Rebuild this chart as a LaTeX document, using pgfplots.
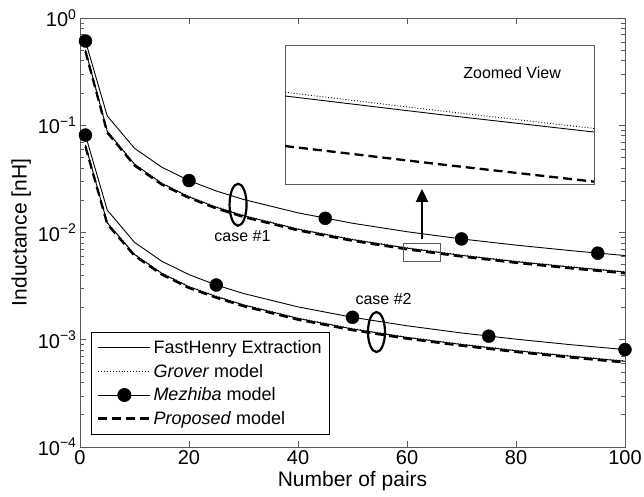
\documentclass[border=0pt]{standalone}
\usepackage{fontspec}
\setmainfont{Liberation Sans}
\usepackage{pgfplots}
\pgfplotsset{compat=1.18}
\usetikzlibrary{arrows.meta,calc}

\definecolor{axgray}{gray}{0.35}

\begin{document}
\begin{tikzpicture}
\begin{semilogyaxis}[
  name=main,
  scale only axis,
  width=545pt, height=429pt,
  xmin=0, xmax=100, ymin=1e-4, ymax=1,
  xtick={0,20,40,60,80,100},
  xticklabels={0,20,40,60,80,100},
  ytick={1e-4,1e-3,1e-2,1e-1,1},
  yticklabels={10\textsuperscript{−4},10\textsuperscript{−3},10\textsuperscript{−2},10\textsuperscript{−1},10\textsuperscript{0}},
  axis line style={axgray, line width=0.8pt},
  every tick/.style={axgray, line width=0.6pt},
  major tick length=6pt, minor tick length=4pt,
  tick label style={font=\fontsize{20}{24}\selectfont},
  label style={font=\fontsize{21}{25}\selectfont},
  xlabel={Number of pairs},
  ylabel={Inductance [nH]},
  legend cell align=left,
  legend image code/.code={\draw[mark repeat=2,mark phase=2,#1] plot coordinates {(0pt,0pt) (26pt,0pt) (52pt,0pt)};},
  legend style={at={(0.02,0.03)}, anchor=south west, draw=black, line width=0.6pt,
    font=\fontsize{18}{21}\selectfont, row sep=5pt, inner xsep=6pt, inner ysep=6pt},
]
\addlegendimage{black, line width=0.9pt}
\addlegendentry{FastHenry Extraction}
\addlegendimage{black, dotted, line width=0.9pt}
\addlegendentry{\textit{Grover} model}
\addlegendimage{black, line width=0.9pt, mark=*, mark size=6.5pt}
\addlegendentry{\textit{Mezhiba} model}
\addlegendimage{black, line width=2.3pt, dash pattern=on 9pt off 5pt}
\addlegendentry{\textit{Proposed} model}

% case 1
\addplot[black, line width=0.9pt, forget plot] coordinates {
  (1,0.500) (5,0.0878) (10,0.0433) (15,0.0287) (20,0.0215) (25,0.0172) (30,0.01433)
  (40,0.01073) (50,0.00858) (60,0.00715) (70,0.00612) (80,0.00535) (90,0.00476) (100,0.00428)};
\addplot[black, dotted, line width=0.9pt, forget plot] coordinates {
  (1,0.505) (5,0.0887) (10,0.0437) (15,0.0290) (20,0.0217) (25,0.01737) (30,0.01447)
  (40,0.01084) (50,0.00867) (60,0.00722) (70,0.00618) (80,0.00540) (90,0.00481) (100,0.00432)};
\addplot[black, line width=0.9pt, forget plot] coordinates {
  (1,0.61) (5,0.122) (10,0.061) (15,0.04067) (20,0.0305) (25,0.0244) (30,0.02033)
  (40,0.01525) (50,0.0122) (60,0.01017) (70,0.00871) (80,0.00763) (90,0.00678) (100,0.0061)};
\addplot[black, only marks, mark=*, mark size=6.5pt, forget plot] coordinates {
  (1,0.61) (20,0.0305) (45,0.01356) (70,0.00871) (95,0.00642)};
\addplot[black, line width=2.3pt, dash pattern=on 9pt off 5pt, forget plot] coordinates {
  (1,0.488) (5,0.0856) (10,0.0422) (15,0.0280) (20,0.0210) (25,0.01677) (30,0.01397)
  (40,0.01046) (50,0.00837) (60,0.00697) (70,0.00597) (80,0.00522) (90,0.00464) (100,0.00417)};

% case 2
\addplot[black, line width=0.9pt, forget plot] coordinates {
  (1,0.065) (5,0.0123) (10,0.00624) (15,0.00416) (20,0.00312) (25,0.00253) (30,0.00211)
  (40,0.00158) (50,0.00126) (60,0.00105) (70,0.000903) (80,0.00079) (90,0.000702) (100,0.00063)};
\addplot[black, dotted, line width=0.9pt, forget plot] coordinates {
  (1,0.0657) (5,0.01242) (10,0.0063) (15,0.0042) (20,0.00315) (25,0.002555) (30,0.00213)
  (40,0.001596) (50,0.001273) (60,0.00106) (70,0.000912) (80,0.000798) (90,0.000709) (100,0.000636)};
\addplot[black, line width=0.9pt, forget plot] coordinates {
  (1,0.081) (5,0.0162) (10,0.0081) (15,0.0054) (20,0.00405) (25,0.00324) (30,0.0027)
  (40,0.002025) (50,0.00162) (60,0.00135) (70,0.001157) (80,0.001013) (90,0.0009) (100,0.00081)};
\addplot[black, only marks, mark=*, mark size=6.5pt, forget plot] coordinates {
  (1,0.081) (25,0.00324) (50,0.00162) (75,0.00108) (100,0.00081)};
\addplot[black, line width=2.3pt, dash pattern=on 9pt off 5pt, forget plot] coordinates {
  (1,0.0634) (5,0.0120) (10,0.00608) (15,0.00406) (20,0.00304) (25,0.002467) (30,0.002057)
  (40,0.00154) (50,0.001229) (60,0.001024) (70,0.00088) (80,0.00077) (90,0.000684) (100,0.000614)};

% annotations
\draw[black, line width=2.2pt] (axis cs:29.0,0.01816) ellipse [x radius=8.5pt, y radius=21pt];
\node[font=\fontsize{16}{19}\selectfont] at (axis cs:29.8,0.00927) {case \#1};
\draw[black, line width=2.2pt] (axis cs:54.4,0.00118) ellipse [x radius=8.5pt, y radius=20pt];
\node[font=\fontsize{16}{19}\selectfont] at (axis cs:55.7,0.0024) {case \#2};
\draw[axgray, line width=0.6pt] (axis cs:59.3,0.00542) rectangle (axis cs:66.2,0.00798);
\draw[black, line width=2pt, -{Triangle[length=13pt,width=12pt]}] (axis cs:62.75,0.0087) -- (axis cs:62.75,0.0255);
\end{semilogyaxis}

% inset: zoomed view
\begin{axis}[
  at={($(main.south west)+(205pt,263pt)$)}, anchor=south west,
  scale only axis, width=309pt, height=139pt,
  xmin=0, xmax=1, ymin=0, ymax=1,
  ticks=none,
  axis line style={axgray, line width=0.8pt},
  axis background/.style={fill=white},
]
\addplot[black, line width=0.9pt] coordinates {(0,0.633) (0.5,0.500) (1,0.374)};
\addplot[black, dotted, line width=0.9pt] coordinates {(0,0.66) (0.5,0.527) (1,0.40)};
\addplot[black, line width=2.3pt, dash pattern=on 9pt off 5pt] coordinates {(0,0.273) (0.5,0.142) (1,0.017)};
\node[font=\fontsize{16}{19}\selectfont] at (axis cs:0.735,0.80) {Zoomed View};
\end{axis}

\pgfresetboundingbox
\path ($(main.south west)+(-80pt,-50pt)$) rectangle ($(main.south west)+(564pt,447pt)$);
\end{tikzpicture}
\end{document}
